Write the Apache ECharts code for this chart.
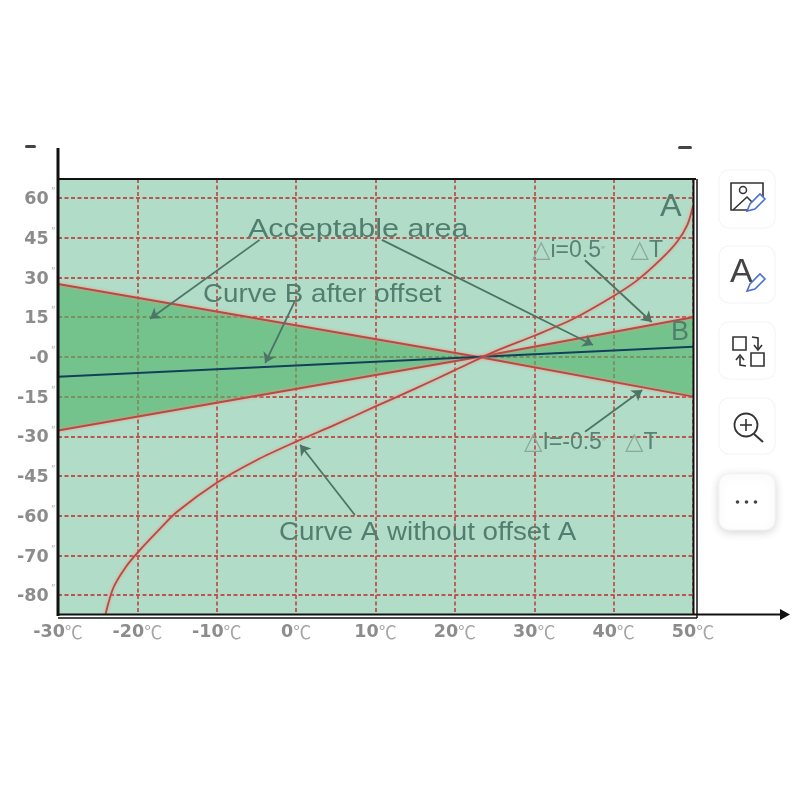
<!DOCTYPE html>
<html><head><meta charset="utf-8">
<style>html,body{margin:0;padding:0;background:#fff}#c{width:800px;height:800px}</style>
<script src="https://cdn.jsdelivr.net/npm/echarts@6/dist/echarts.min.js"></script>
</head><body><div id="c"></div>
<script>
// x ticks (deg C)
const xTickValues = [-30,-20,-10,0,10,20,30,40,50];
// y axis is evenly spaced by rank; the last two ticks are labelled -70 and -80
const yTickPositions = [60,45,30,15,0,-15,-30,-45,-60,-75,-90];
const yTickLabels = ['60','45','30','15','-0','-15','-30','-45','-60','-70','-80'];
// series as [T, value on the evenly spaced axis]
const upperLimit = [[-30,27.5],[23,0],[50,-15]];
const lowerLimit = [[-30,-27.8],[23,0],[50,15]];
const curveB = [[-30,-7.5],[50,3.8]];
const curveA = [[-24,-97],[-23,-87],[-21.5,-79.5],[-20,-74],[-17.5,-66],[-15,-58.5],[-10,-47.5],[-5,-39],[0,-32],[5,-25.5],[10,-18.7],[15,-12],[20,-5],[25,2],[30,8],[35,14.5],[40,23],[43,29],[46,37],[48,43.5],[49.3,50],[50,57]];
// annotation arrows: [from, to]
const arrows = [
 [[-4.6,44.2],[-18.4,14.4]],
 [[10.8,44.2],[37.4,4.5]],
 [[-0.2,20.8],[-3.9,-2.3]],
 [[7.4,-59.7],[0.5,-33.2]],
 [[36.4,36.5],[44.8,13.2]],
 [[36.4,-28.3],[43.6,-12.5]]
];
const notes = [
 {text:'Acceptable area',x:248,y:230,fs:25,sx:1.22},
 {text:'Curve B after offset',x:203,y:295,fs:25,sx:1.11},
 {text:'Curve A without offset A',x:279,y:533,fs:25,sx:1.11},
 {text:'A',x:660,y:207,fs:31,sx:1.05},
 {text:'B',x:671,y:333,fs:27,sx:1}
];

const red='#b94a43', halo='rgba(255,140,130,0.95)', dark='#111';
const lineSeries=(data,extra)=>Object.assign({type:'line',data,symbol:'none',silent:true,
  lineStyle:{color:red,width:2,shadowColor:halo,shadowBlur:3}},extra||{});
const g=[];
// extra axis and frame strokes
const L=(x1,y1,x2,y2,w,c)=>g.push({type:'line',z:50,shape:{x1,y1,x2,y2},style:{stroke:c||dark,lineWidth:w}});
L(58,148,58,616,3);
L(58,179,696,179,2);
L(693.5,179,693.5,615,2);
L(697,179,697,618,1.5);
L(58,614.5,780,614.5,1.8);
L(58,618,697,618,1.5);
g.push({type:'polygon',z:50,shape:{points:[[780,609],[790,614.5],[780,620]]},style:{fill:dark}});
g.push({type:'rect',z:50,shape:{x:25,y:145,width:11,height:3,r:1.5},style:{fill:'#444'}});
g.push({type:'rect',z:50,shape:{x:678,y:146,width:14,height:3,r:1.5},style:{fill:'#444'}});
// notes
notes.forEach(n=>g.push({type:'text',z:60,x:n.x,y:n.y,scaleX:n.sx,style:{text:n.text,fill:'#527e70',
  font:n.fs+'px "Liberation Sans"',textAlign:'left',textVerticalAlign:'middle'}}));
const rich={t:{fill:'#8ea79c',fontSize:24,fontFamily:'DejaVu Sans'},m:{fill:'#5a8274',fontSize:23,fontFamily:'Liberation Sans'},s:{fill:'#8fa89d',fontSize:11,fontFamily:'Liberation Sans'}};
g.push({type:'text',z:60,x:532,y:251,style:{text:'{t|△}{m|i=0.5}{s|″}{m|    }{t|△}{m|T}',rich,textVerticalAlign:'middle'}});
g.push({type:'text',z:60,x:524,y:443,style:{text:'{t|△}{m|I=-0.5}{s|″}{m|   }{t|△}{m|T}',rich,textVerticalAlign:'middle'}});
// toolbar buttons
const btn=(y,h,sh)=>g.push({type:'rect',z:40,shape:{x:719,y,width:56,height:h,r:10},style:{fill:'#fff',stroke:'#f4f4f6',lineWidth:1,shadowColor:sh?'rgba(0,0,0,0.16)':'rgba(0,0,0,0.02)',shadowBlur:sh?10:4,shadowOffsetY:sh?2:0}});
btn(170,58);btn(246,57);btn(322,57);btn(398,56);btn(474,56,true);
const ic='#333', pen='#4a6fd6';
const P=(points,c,w)=>g.push({type:'polyline',z:45,shape:{points},style:{stroke:c||ic,lineWidth:w||1.6,fill:'none'}});
const pencil=(x,y)=>{g.push({type:'polygon',z:45,shape:{points:[[x,y],[x+3,y-7],[x+13,y-17],[x+18,y-12],[x+8,y-2]]},style:{stroke:pen,lineWidth:1.6,fill:'#fff'}});};
P([[763,201],[763,183],[731,183],[731,210],[748,210]]);
g.push({type:'circle',z:45,shape:{cx:743,cy:190,r:3.5},style:{stroke:ic,lineWidth:1.5,fill:'none'}});
P([[733,210],[747,197],[752,202]]);
pencil(747,211);
g.push({type:'text',z:45,x:730,y:273,style:{text:'A',font:'34px "Liberation Sans"',fill:'#444',textVerticalAlign:'middle'}});
pencil(747,291);
g.push({type:'rect',z:45,shape:{x:733,y:337,width:13,height:13},style:{stroke:ic,lineWidth:1.6,fill:'none'}});
g.push({type:'rect',z:45,shape:{x:751,y:353,width:13,height:13},style:{stroke:ic,lineWidth:1.6,fill:'none'}});
P([[752,337],[758,338],[758,349]]);P([[754,345],[758,350],[762,345]]);
P([[746,366],[740,365],[740,357]]);P([[736,360],[740,355],[744,360]]);
g.push({type:'circle',z:45,shape:{cx:746,cy:425,r:11.5},style:{stroke:ic,lineWidth:1.8,fill:'none'}});
L(746,419,746,431,1.6,ic);L(740,425,752,425,1.6,ic);
L(754,434,763,442,2,ic);
[737,746,755].forEach(x=>g.push({type:'circle',z:45,shape:{cx:x+0.5,cy:502,r:1.8},style:{fill:'#444'}}));

const chart=echarts.init(document.getElementById('c'),null,{renderer:'canvas'});
const grey='#8c8c8c';
const gridLine={show:true,lineStyle:{color:'#b9564f',type:[4,2.5],width:1.8}};
chart.setOption({
 animation:false,
 backgroundColor:'#fff',
 grid:{left:58,top:179,width:635,height:435,show:true,backgroundColor:'#b1dcc7',borderWidth:0},
 xAxis:{type:'value',min:-30,max:50,interval:10,
   axisLine:{show:false},axisTick:{show:false},splitLine:gridLine,
   axisLabel:{margin:9,showMinLabel:true,showMaxLabel:true,
     formatter:v=>'{a|'+v+'}{b|℃}',
     rich:{a:{color:grey,fontSize:17.5,fontWeight:'bold',fontFamily:'DejaVu Sans'},b:{color:'#a5a5a5',fontSize:18,fontFamily:'Noto Sans CJK SC'}}}},
 yAxis:{type:'value',min:-97.1,max:67.2,
   axisLine:{show:false},
   axisTick:{show:false,customValues:yTickPositions},
   splitLine:gridLine,
   axisLabel:{margin:3,customValues:yTickPositions,
     formatter:v=>'{a|'+yTickLabels[yTickPositions.indexOf(v)]+'}{b| ″}',
     rich:{a:{color:grey,fontSize:17.5,fontWeight:'bold',fontFamily:'DejaVu Sans',padding:[3,0,0,0]},b:{color:'#b0b0b0',fontSize:10,fontFamily:'Liberation Sans',verticalAlign:'top'}}}},
 series:[
  lineSeries(upperLimit,{areaStyle:{color:'rgba(80,180,108,0.9)'}}),
  lineSeries(lowerLimit,{areaStyle:{color:'rgba(80,180,108,0.9)'}}),
  lineSeries(curveB,{lineStyle:{color:'#123f5c',width:2}}),
  lineSeries(curveA,{smooth:0.3,lineStyle:{color:red,width:1.8,shadowColor:halo,shadowBlur:3}}),
  {type:'line',data:[],silent:true,
   markLine:{silent:true,symbol:['none','arrow'],symbolSize:10,animation:false,label:{show:false},
     lineStyle:{color:'#4d7565',width:1.8,type:'solid'},
     data:arrows.map(a=>[{coord:a[0]},{coord:a[1]}])}}
 ],
 graphic:g
});
</script></body></html>
